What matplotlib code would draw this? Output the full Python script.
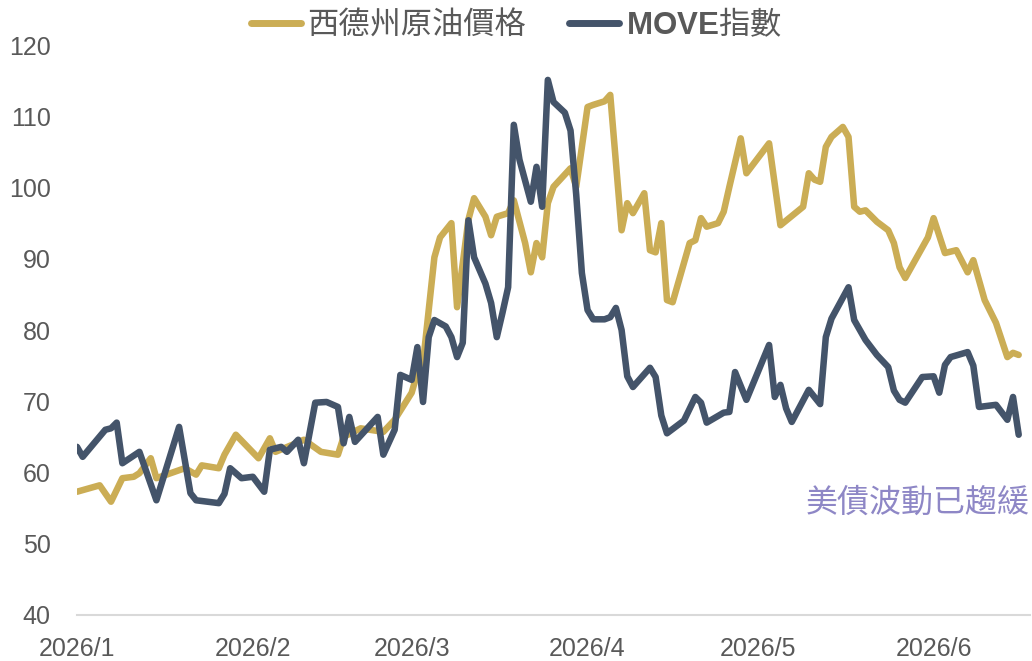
import numpy as np
import matplotlib
matplotlib.use("Agg")
import matplotlib.pyplot as plt
import matplotlib.dates as mdates

# day offsets are counted from 2026-01-01
wti_day = [0, 4, 6, 8, 10, 11, 13, 14, 19, 21, 22, 25, 26, 28, 32, 34, 35,
           38, 40, 43, 46, 47, 50, 54, 56, 59, 60, 61, 63, 64, 66, 67, 69,
           70, 72, 73, 74, 76, 77, 79, 80, 81, 82, 83, 84, 87, 88, 90, 91,
           93, 94, 96, 97, 98, 100, 101, 102, 103, 104, 105, 108, 109, 110,
           111, 113, 114, 115, 117, 118, 122, 124, 128, 129, 130, 131, 132,
           133, 135, 136, 137, 138, 139, 141, 143, 144, 145, 146, 150, 151,
           153, 155, 157, 158, 160, 162, 164, 165, 166]
wti_val = [57.3, 58.2, 55.9, 59.2, 59.4, 59.9, 62.0, 59.2, 60.6, 59.7, 61.0,
           60.6, 62.5, 65.3, 62.0, 64.8, 62.9, 63.9, 64.6, 62.9, 62.5, 65.0,
           66.2, 65.7, 67.4, 71.2, 74.0, 75.4, 90.2, 93.0, 95.0, 83.2, 95.5,
           98.5, 95.9, 93.3, 95.9, 96.4, 98.2, 92.2, 88.1, 92.2, 90.2, 97.8,
           100.1, 102.7, 100.1, 111.3, 111.6, 112.1, 113.0, 94.0, 97.8, 96.4,
           99.2, 91.2, 90.9, 95.0, 84.2, 83.9, 92.2, 92.6, 95.7, 94.5, 95.0,
           96.6, 100.1, 106.9, 102.0, 106.2, 94.7, 97.3, 102.0, 101.1, 100.8,
           105.7, 107.1, 108.5, 107.1, 97.3, 96.6, 96.8, 95.2, 94.0, 92.2,
           88.8, 87.3, 93.0, 95.7, 90.8, 91.2, 88.1, 89.8, 84.2, 81.0, 76.2,
           76.8, 76.5]

move_day = [0, 1, 5, 6, 7, 8, 11, 14, 18, 20, 21, 25, 26, 27, 29, 31, 33,
            34, 36, 37, 39, 40, 42, 44, 46, 47, 48, 49, 53, 54, 56, 57, 59,
            60, 61, 62, 63, 65, 66, 67, 68, 69, 70, 72, 73, 74, 75, 76, 77,
            78, 80, 81, 82, 83, 84, 86, 87, 88, 89, 90, 91, 93, 94, 95, 96,
            97, 98, 101, 102, 103, 104, 107, 109, 110, 111, 114, 115, 116,
            118, 122, 123, 124, 125, 126, 129, 131, 132, 133, 136, 137, 139,
            141, 143, 144, 145, 146, 149, 151, 152, 153, 154, 157, 158, 159,
            162, 164, 165, 166]
move_val = [63.6, 62.2, 66.0, 66.2, 67.0, 61.3, 62.9, 56.1, 66.4, 57.1, 56.1,
            55.7, 57.0, 60.6, 59.2, 59.4, 57.3, 63.2, 63.6, 62.9, 64.6, 61.3,
            69.8, 69.9, 69.2, 64.1, 67.8, 64.3, 67.8, 62.5, 66.0, 73.7, 73.0,
            77.6, 69.9, 79.0, 81.4, 80.5, 79.0, 76.2, 78.2, 95.4, 90.2, 86.5,
            83.8, 79.0, 82.4, 86.0, 108.8, 103.9, 98.0, 102.9, 97.3, 115.1,
            112.0, 110.5, 108.0, 99.0, 88.0, 82.8, 81.5, 81.5, 81.8, 83.1,
            80.0, 73.5, 72.0, 74.7, 73.4, 68.0, 65.5, 67.3, 70.6, 69.8, 67.0,
            68.4, 68.5, 74.1, 70.2, 77.9, 70.6, 72.3, 69.0, 67.1, 71.6, 69.6,
            79.0, 81.6, 86.0, 81.4, 78.6, 76.5, 74.8, 71.5, 70.2, 69.8, 73.4,
            73.5, 71.2, 75.1, 76.2, 76.9, 75.0, 69.2, 69.5, 67.4, 70.6, 65.3]

series_names = ["西德州原油價格", r"$\mathbf{MOVE}$指數"]
note_text = "美債波動已趨緩"
y_ticks = [40, 50, 60, 70, 80, 90, 100, 110, 120]

gold = "#CBAD55"
navy = "#44546A"
grey = "#595959"
cjk = ["Noto Sans CJK TC", "DejaVu Sans"]

plt.rcParams["mathtext.fontset"] = "custom"
plt.rcParams["mathtext.bf"] = "Liberation Sans:bold"

start = np.datetime64("2026-01-01")
wti_x = start + np.array(wti_day).astype("timedelta64[D]")
move_x = start + np.array(move_day).astype("timedelta64[D]")

fig = plt.figure(figsize=(10.32, 6.61), dpi=100)
ax = fig.add_axes([0.0746, 0.0696, 0.9235, 0.8623])

ax.plot(wti_x, wti_val, color=gold, lw=4.7, solid_joinstyle="round",
        solid_capstyle="round", label=series_names[0])
ax.plot(move_x, move_val, color=navy, lw=4.7, solid_joinstyle="round",
        solid_capstyle="round", label=series_names[1])

ax.set_ylim(40, 120)
ax.set_yticks(y_ticks)
ax.set_xlim(start, start + np.timedelta64(168, "D"))
ax.xaxis.set_major_locator(mdates.MonthLocator())
ax.xaxis.set_major_formatter(
    plt.FuncFormatter(lambda v, _: "2026/%d" % mdates.num2date(v).month))

for side in ["top", "right", "left"]:
    ax.spines[side].set_visible(False)
ax.spines["bottom"].set_color("#D9D9D9")
ax.spines["bottom"].set_linewidth(1.5)
ax.tick_params(axis="both", length=0, labelcolor=grey)
ax.tick_params(axis="y", pad=19)
ax.tick_params(axis="x", pad=16)
for lab in ax.get_xticklabels() + ax.get_yticklabels():
    lab.set_fontfamily(["Liberation Sans", "DejaVu Sans"])
    lab.set_fontsize(18)

leg = fig.legend(loc="center", bbox_to_anchor=(0.5, 0.963), ncol=2,
                 frameon=False, handlelength=1.6, handletextpad=0.2,
                 columnspacing=1.4, prop={"family": cjk, "size": 22.5})
for t in leg.get_texts():
    t.set_color(grey)
for h in leg.get_lines():
    h.set_linewidth(5)

fig.text(0.9975, 1 - 503 / 661, note_text, ha="right", va="center",
         color="#8E87C6", fontsize=23, family=cjk)

fig.savefig("out.png", dpi=100)
